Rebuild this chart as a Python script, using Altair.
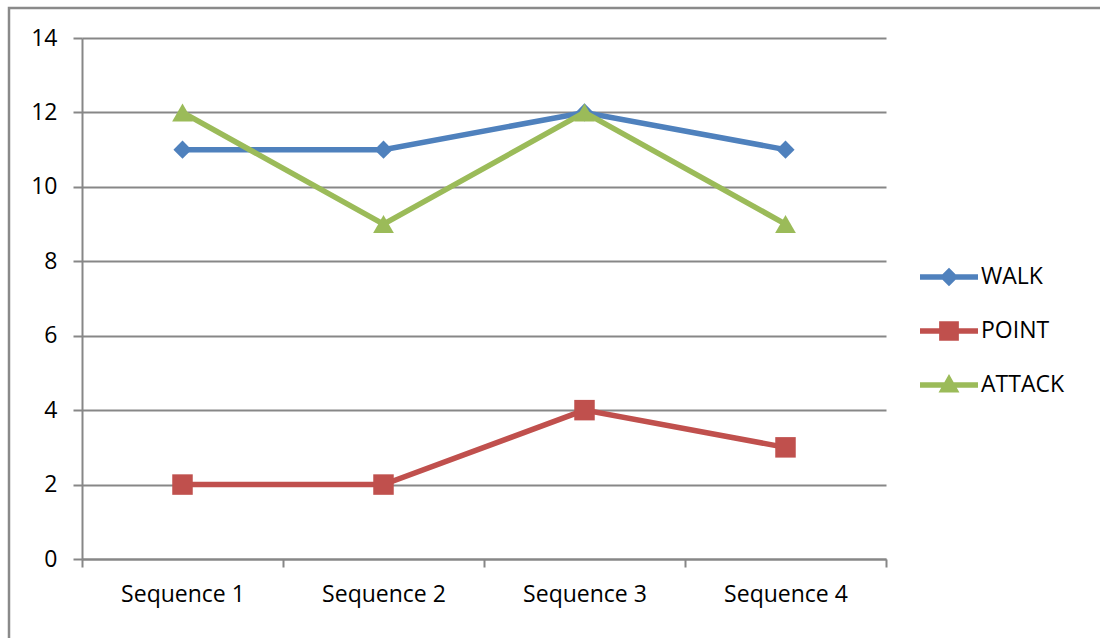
import altair as alt
import pandas as pd

# Series values per sequence
sequences = ["Sequence 1", "Sequence 2", "Sequence 3", "Sequence 4"]
walk = [11, 11, 12, 11]
point = [2, 2, 4, 3]
attack = [12, 9, 12, 9]

series_names = ["WALK", "POINT", "ATTACK"]
series_colors = ["#4F81BD", "#C0504D", "#9BBB59"]
y_ticks = [0, 2, 4, 6, 8, 10, 12, 14]

rows = []
for name, vals in zip(series_names, [walk, point, attack]):
    for seq, v in zip(sequences, vals):
        rows.append({"seq": seq, "value": v, "series": name})
df = pd.DataFrame(rows)

FONT = "Open Sans"
GRID = "#878787"

# Legend glyphs: a line segment with the series marker on it (unit coordinates)
legend_paths = [
    "M-1,-0.095L1,-0.095L1,0.095L-1,0.095Z M0,-0.32L0.32,0L0,0.32L-0.32,0Z",
    "M-1,-0.095L1,-0.095L1,0.095L-1,0.095Z M-0.34,-0.34L0.34,-0.34L0.34,0.34L-0.34,0.34Z",
    "M-1,-0.095L1,-0.095L1,0.095L-1,0.095Z M0,-0.38L0.36,0.26L-0.36,0.26Z",
]
marker_shapes = {"WALK": ("diamond", 330), "POINT": ("square", 420), "ATTACK": ("triangle-up", 430)}

x_enc = alt.X(
    "seq:N",
    sort=sequences,
    scale=alt.Scale(type="band", paddingInner=0, paddingOuter=0),
    bandPosition=0.5,
    title=None,
    axis=alt.Axis(
        tickBand="extent",
        labelAngle=0,
        labelFont=FONT,
        labelFontSize=23,
        labelColor="#000000",
        labelPadding=16,
        tickSize=8,
        tickWidth=2,
        tickColor=GRID,
        domainColor=GRID,
        domainWidth=2,
        grid=False,
    ),
)
y_enc = alt.Y(
    "value:Q",
    scale=alt.Scale(domain=[0, 14], nice=False),
    title=None,
    axis=alt.Axis(
        values=y_ticks,
        labelFont=FONT,
        labelFontSize=23,
        labelColor="#000000",
        labelPadding=16,
        tickSize=9,
        tickWidth=2,
        tickColor=GRID,
        domainColor=GRID,
        domainWidth=2,
        grid=True,
        gridColor=GRID,
        gridWidth=2,
    ),
)
color_scale = alt.Scale(domain=series_names, range=series_colors)

base = alt.Chart(df)

layers = []
# each series: its line, then its markers on top
for name, col in zip(series_names, series_colors):
    shape, size = marker_shapes[name]
    sub = base.transform_filter(alt.datum.series == name)
    layers.append(
        sub.mark_line(strokeWidth=5.5, color=col).encode(x=x_enc, y=y_enc)
    )
    layers.append(
        sub.mark_point(
            filled=True, opacity=1, strokeWidth=0, shape=shape, size=size, color=col
        ).encode(x=x_enc, y=y_enc)
    )

legend_def = alt.Legend(
    title=None,
    orient="none",
    legendX=838,
    legendY=210,
    symbolSize=3364,
    symbolOpacity=1,
    symbolStrokeWidth=0,
    labelFont=FONT,
    labelFontSize=23,
    labelColor="#000000",
    labelOffset=3,
    rowPadding=13,
    padding=0,
)

legend_layer = base.mark_point(filled=True, opacity=0, size=1).encode(
    x=x_enc,
    y=y_enc,
    color=alt.Color("series:N", scale=color_scale, legend=legend_def),
    shape=alt.Shape("series:N", scale=alt.Scale(domain=series_names, range=legend_paths), legend=legend_def),
)

frame = alt.Chart(pd.DataFrame({"f": [0]})).mark_rect(
    filled=False, stroke="#8a8a8a", strokeWidth=2.5, clip=False
).encode(
    x=alt.value(-73), x2=alt.value(1300), y=alt.value(-30), y2=alt.value(800)
)

chart = (
    alt.layer(frame, *layers, legend_layer)
    .properties(
        width=804,
        height=521,
        autosize=alt.AutoSizeParams(type="none"),
        padding={"left": 82, "top": 38, "right": 214, "bottom": 79},
        background="white",
    )
    .configure_view(stroke=None)
)

chart.save("out.html", embed_options={"renderer": "svg", "actions": False})
